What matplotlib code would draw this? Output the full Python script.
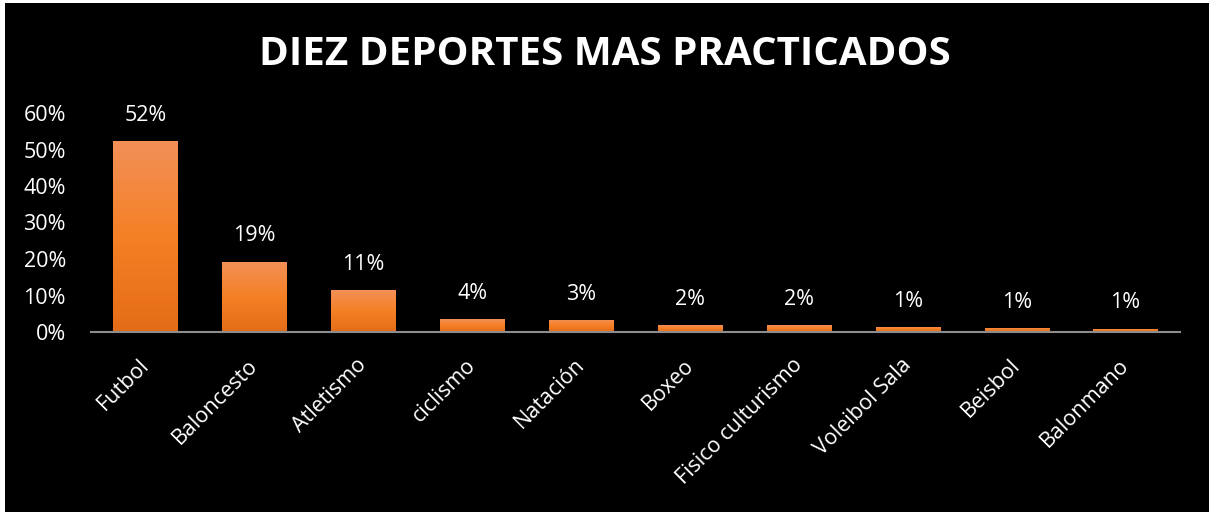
import numpy as np
import matplotlib
matplotlib.use("Agg")
import matplotlib.pyplot as plt
import matplotlib.transforms as mtransforms
from matplotlib.colors import LinearSegmentedColormap
from matplotlib.patches import Rectangle

deportes = ["Futbol", "Baloncesto", "Atletismo", "ciclismo", "Natación", "Boxeo",
            "Fisico culturismo", "Voleibol Sala", "Beisbol", "Balonmano"]
valores = [0.523, 0.193, 0.114, 0.035, 0.033, 0.019, 0.019, 0.014, 0.011, 0.009]
etiquetas = ["52%", "19%", "11%", "4%", "3%", "2%", "2%", "1%", "1%", "1%"]
yticks = [0, 0.1, 0.2, 0.3, 0.4, 0.5, 0.6]

plt.rcParams['font.family'] = ['Open Sans', 'DejaVu Sans']

fig = plt.figure(figsize=(12.12, 5.12), dpi=100, facecolor="white")
# black panel with thin white margin like the original image
fig.patches.append(Rectangle((5/1212, 0), (1209-5)/1212, (512-3)/512,
                             transform=fig.transFigure, facecolor="black",
                             edgecolor="none", zorder=-10))

ax = fig.add_axes([91/1212, 1-332/512, (1180-91)/1212, (332-113)/512])
ax.set_facecolor("none")

x = np.arange(len(deportes))
bars = ax.bar(x, valores, width=0.59, color="none", edgecolor="none")

# vertical orange gradient inside each bar
cmap = LinearSegmentedColormap.from_list("naranja", ["#E46C17", "#F58025", "#F29058"])
grad = np.linspace(0, 1, 256).reshape(-1, 1)
for b in bars:
    im = ax.imshow(grad, cmap=cmap, origin="lower", aspect="auto",
                   extent=(b.get_x(), b.get_x() + b.get_width(), 0, b.get_height()),
                   zorder=2)
    im.set_clip_path(b)

for xi, v, t in zip(x, valores, etiquetas):
    ax.annotate(t, (xi, v), xytext=(0, 11), textcoords="offset points",
                ha="center", va="bottom", color="white", fontsize=15.5)

ax.set_xlim(-0.5, len(deportes) - 0.5)
ax.set_ylim(0, 0.6)
ax.set_yticks(yticks)
ax.set_yticklabels([f"{int(round(t*100))}%" for t in yticks])
ax.set_xticks(x)
ax.set_xticklabels(deportes, rotation=45, ha="right", rotation_mode="anchor")
ax.tick_params(axis="both", length=0, colors="white", labelsize=15.5)
ax.tick_params(axis="y", pad=18)
ax.tick_params(axis="x", pad=17)
shift = mtransforms.ScaledTranslation(-7/100, 1/100, fig.dpi_scale_trans)
for lbl in ax.get_xticklabels():
    lbl.set_transform(lbl.get_transform() + shift)
for s in ["top", "right", "left"]:
    ax.spines[s].set_visible(False)
ax.spines["bottom"].set_color("#8c8c8c")
ax.spines["bottom"].set_linewidth(1.5)

fig.text(605/1212, 1-65/512, "DIEZ DEPORTES MAS PRACTICADOS", ha="center", va="baseline",
         color="white", fontsize=29, fontweight="bold")

fig.savefig("out.png", dpi=100, facecolor="white")
